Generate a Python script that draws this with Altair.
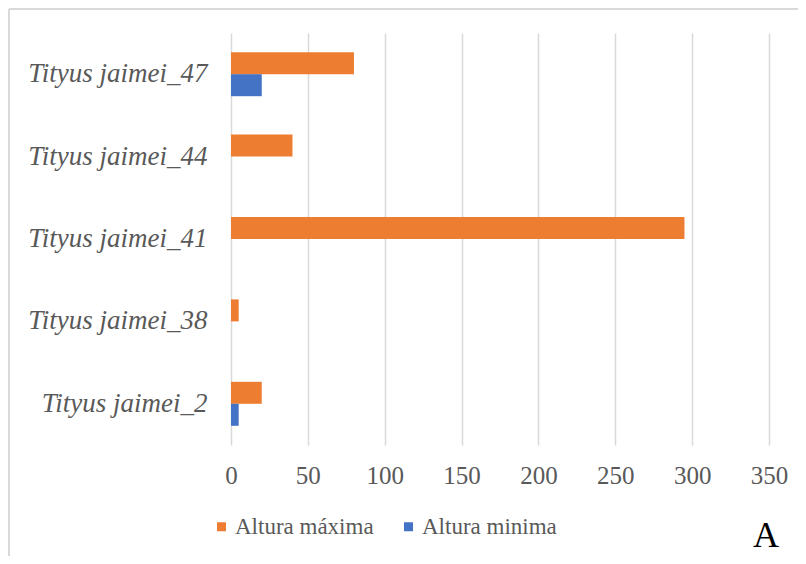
import altair as alt
import pandas as pd

categories = ["Tityus jaimei_47", "Tityus jaimei_44", "Tityus jaimei_41",
              "Tityus jaimei_38", "Tityus jaimei_2"]
altura_maxima = [80, 40, 295, 5, 20]
altura_minima = [20, 0, 0, 0, 5]
series = ["Altura máxima", "Altura minima"]
colors = ["#ED7D31", "#4472C4"]
x_ticks = [0, 50, 100, 150, 200, 250, 300, 350]
panel_label = ["A"]

rows = []
for c, mx, mn in zip(categories, altura_maxima, altura_minima):
    rows.append({"cat": c, "serie": series[0], "valor": mx})
    rows.append({"cat": c, "serie": series[1], "valor": mn})
df = pd.DataFrame(rows)

FONT = "Liberation Serif"
GRAY = "#595959"

bars = alt.Chart(df).mark_bar(strokeWidth=0).encode(
    y=alt.Y("cat:N", sort=categories,
            scale=alt.Scale(paddingInner=0.466, paddingOuter=0.233),
            axis=alt.Axis(title=None, domain=False, ticks=False, grid=False,
                          labelFont=FONT, labelFontStyle="italic", labelFontSize=27,
                          labelColor=GRAY, labelPadding=24)),
    yOffset=alt.YOffset("serie:N", sort=series),
    x=alt.X("valor:Q", scale=alt.Scale(domain=[0, 350], nice=False),
            axis=alt.Axis(values=x_ticks, title=None, domain=False, ticks=False, tickSize=0,
                          grid=True, gridColor="#d9d9d9", gridWidth=1.5,
                          labelFlush=False, labelOverlap=False,
                          labelFont=FONT, labelFontSize=25, labelColor=GRAY,
                          labelPadding=18)),
    color=alt.Color("serie:N", scale=alt.Scale(domain=series, range=colors),
                    legend=alt.Legend(title=None, orient="none", direction="horizontal",
                                      legendX=-21, legendY=482, symbolType="square",
                                      symbolSize=81, symbolStrokeWidth=0,
                                      labelFont=FONT, labelFontSize=23, labelColor=GRAY,
                                      labelOffset=2, columnPadding=23)),
)

a_text = alt.Chart(pd.DataFrame({"t": panel_label})).mark_text(
    font=FONT, fontSize=36, color="black", align="center", baseline="alphabetic"
).encode(text="t:N", x=alt.value(535), y=alt.value(514))

border_df = pd.DataFrame({"k": [1]})
top_rule = alt.Chart(border_df).mark_rule(color="#d9d9d9", strokeWidth=2).encode(
    x=alt.value(-222), x2=alt.value(567), y=alt.value(-24))
left_rule = alt.Chart(border_df).mark_rule(color="#d9d9d9", strokeWidth=2).encode(
    x=alt.value(-222), y=alt.value(-24), y2=alt.value(523))

chart = alt.layer(bars, a_text, top_rule, left_rule).properties(
    width=538, height=412,
    padding={"left": 223, "top": 25, "right": 29, "bottom": 111},
    autosize=alt.AutoSizeParams(type="none"),
).configure(font=FONT).configure_view(strokeWidth=0)

chart.save("out.html", embed_options={"renderer": "svg", "actions": False})
